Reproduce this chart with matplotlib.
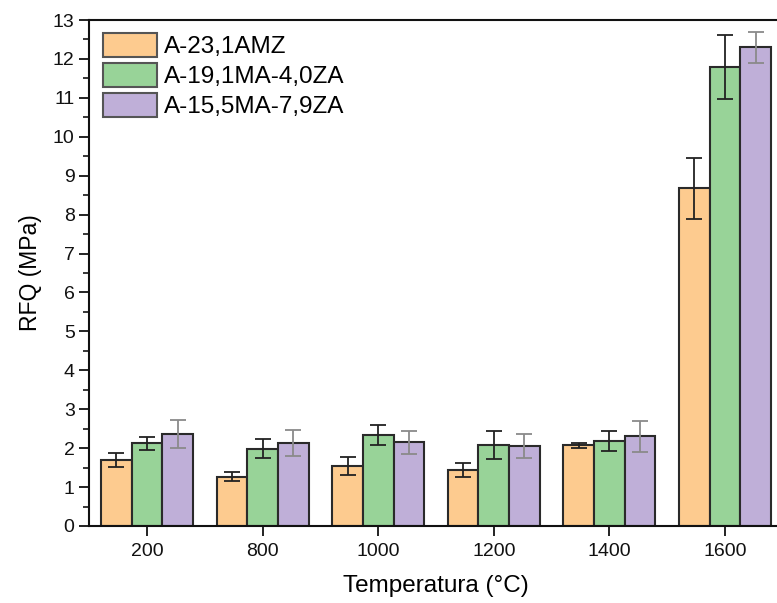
import matplotlib
matplotlib.use("Agg")
import matplotlib.pyplot as plt
import numpy as np
from matplotlib.ticker import MultipleLocator

plt.rcParams['font.family'] = ['Liberation Sans', 'DejaVu Sans']

temperatures = ["200", "800", "1000", "1200", "1400", "1600"]
series_names = ["A-23,1AMZ", "A-19,1MA-4,0ZA", "A-15,5MA-7,9ZA"]

rfq_amz = [1.70, 1.27, 1.53, 1.43, 2.07, 8.68]
err_amz = [0.18, 0.11, 0.23, 0.18, 0.07, 0.78]

rfq_ma4 = [2.12, 1.99, 2.33, 2.08, 2.18, 11.80]
err_ma4 = [0.17, 0.25, 0.26, 0.35, 0.26, 0.82]

rfq_ma7 = [2.37, 2.13, 2.15, 2.05, 2.30, 12.30]
err_ma7 = [0.36, 0.33, 0.30, 0.31, 0.40, 0.40]

fill_colors = ["#FDCB8F", "#98D398", "#BFAFD8"]
err_colors = ["#222222", "#222222", "#8a8a8a"]

fig = plt.figure(figsize=(7.77, 6.03), dpi=100)
ax = fig.add_axes([0.1148, 0.1277, 0.8927, 0.8391])

x = np.arange(len(temperatures))
width = 0.265
offsets = [-width, 0, width]
values = [rfq_amz, rfq_ma4, rfq_ma7]
errors = [err_amz, err_ma4, err_ma7]

for vals, errs, off, fc, ec, name in zip(values, errors, offsets, fill_colors, err_colors, series_names):
    ax.bar(x + off, vals, width, color=fc, edgecolor="#2a2a2a", linewidth=1.5,
           label=name, zorder=2)
    ax.errorbar(x + off, vals, yerr=errs, fmt="none", ecolor=ec, elinewidth=1.3,
                capsize=5.5, capthick=1.3, zorder=3)

ax.set_xlim(-0.5, 5.5)
ax.set_ylim(0, 13)
ax.set_xticks(x)
ax.set_xticklabels(temperatures)
ax.yaxis.set_major_locator(MultipleLocator(1))
ax.yaxis.set_minor_locator(MultipleLocator(0.5))

ax.tick_params(axis="both", which="major", direction="out", length=7, width=1.3,
               labelsize=14, colors="#111111")
ax.tick_params(axis="y", which="minor", direction="out", length=4, width=1.1)
ax.tick_params(axis="x", pad=5)

for side in ["left", "bottom", "top"]:
    ax.spines[side].set_linewidth(1.5)
    ax.spines[side].set_color("#111111")
ax.spines["right"].set_visible(False)

ax.set_ylabel("RFQ (MPa)", fontsize=16.5, labelpad=8)
ax.set_xlabel("Temperatura (°C)", fontsize=17.5, labelpad=11)

leg = ax.legend(loc="upper left", frameon=False, fontsize=17.5,
                handlelength=2.26, handleheight=1.12, handletextpad=0.28,
                labelspacing=0.2, borderaxespad=0.35, borderpad=0.2)
for h in leg.legend_handles:
    h.set_edgecolor("#555555")
    h.set_linewidth(1.5)

fig.savefig("out.png", dpi=100)
